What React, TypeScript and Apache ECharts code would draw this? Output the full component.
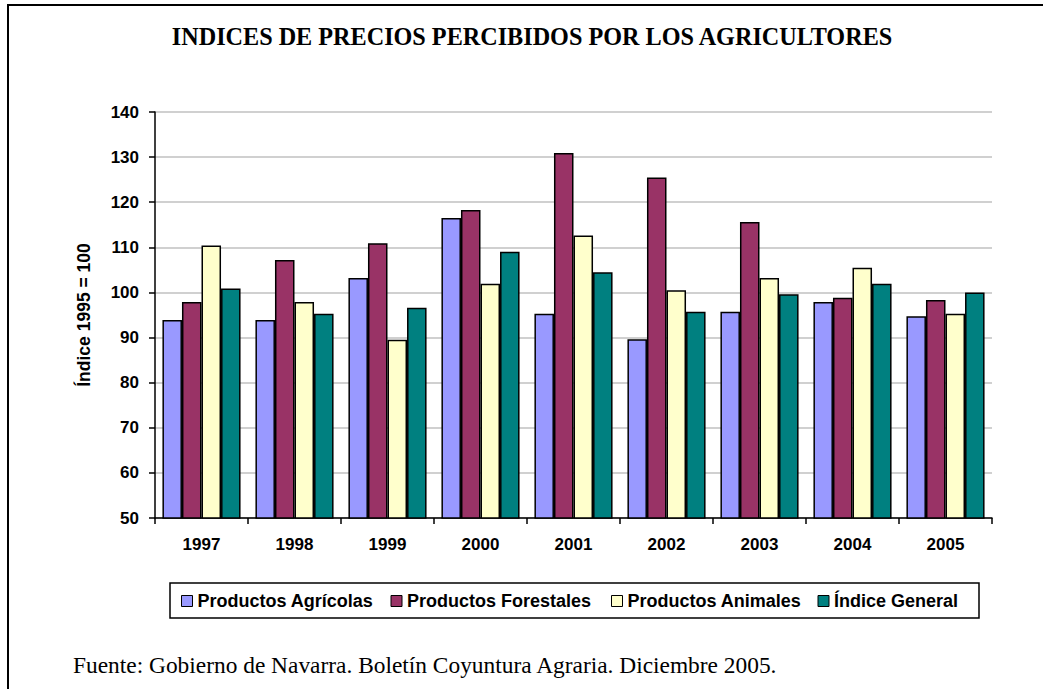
import React, { useEffect, useRef } from "react";
import * as echarts from "echarts";

const years = ["1997", "1998", "1999", "2000", "2001", "2002", "2003", "2004", "2005"];
const agricolas = [93.9, 93.9, 103.2, 116.5, 95.3, 89.6, 95.7, 97.9, 94.7];
const forestales = [97.9, 107.2, 110.9, 118.3, 130.9, 125.5, 115.6, 98.8, 98.3];
const animales = [110.4, 97.9, 89.5, 101.9, 112.6, 100.5, 103.2, 105.5, 95.3];
const general = [100.9, 95.3, 96.6, 109.0, 104.5, 95.7, 99.6, 101.9, 100.0];

const seriesNames = ["Productos Agrícolas", "Productos Forestales", "Productos Animales", "Índice General"];
const seriesColors = ["#9999FF", "#993366", "#FFFFCC", "#008080"];
const legendTextWidths = [183, 194, 180, 131];

const titleText = "INDICES DE PRECIOS PERCIBIDOS POR LOS AGRICULTORES";
const yAxisName = "Índice 1995 = 100";
const footerText = "Fuente: Gobierno de Navarra. Boletín Coyuntura Agraria. Diciembre 2005.";

const SANS = "'Liberation Sans', Arial, sans-serif";
const SERIF = "'Liberation Serif', 'Times New Roman', serif";

export default function App() {
  const ref = useRef<HTMLDivElement>(null);

  useEffect(() => {
    if (!ref.current) return;
    const chart = echarts.init(ref.current, undefined, { renderer: "svg" });
    const dataSets = [agricolas, forestales, animales, general];

    chart.setOption({
      animation: false,
      backgroundColor: "#ffffff",
      grid: { left: 155, right: 51, top: 112, bottom: 171, containLabel: false },
      xAxis: {
        type: "category",
        data: years,
        axisLine: { show: true, lineStyle: { color: "#000", width: 1.5 } },
        axisTick: { show: true, alignWithLabel: false, length: 6, lineStyle: { color: "#000", width: 1.5 } },
        axisLabel: { color: "#000", fontFamily: SANS, fontWeight: "bold", fontSize: 17, margin: 18 },
      },
      yAxis: {
        type: "value",
        min: 50,
        max: 140,
        interval: 10,
        name: yAxisName,
        nameLocation: "middle",
        nameGap: 62,
        nameRotate: 90,
        nameTextStyle: { color: "#000", fontFamily: SANS, fontWeight: "bold", fontSize: 17.5 },
        axisLine: { show: true, lineStyle: { color: "#000", width: 1.5 } },
        axisTick: { show: true, length: 6, lineStyle: { color: "#000", width: 1.5 } },
        axisLabel: { color: "#000", fontFamily: SANS, fontWeight: "bold", fontSize: 17, margin: 16 },
        splitLine: { show: true, lineStyle: { color: "#c0c0c0", width: 1.5 } },
      },
      legend: {
        left: 170,
        top: 583,
        orient: "horizontal",
        padding: [9, 14, 8, 11],
        itemGap: 10,
        itemWidth: 11,
        itemHeight: 11,
        icon: "rect",
        selectedMode: false,
        borderColor: "#000",
        borderWidth: 1.5,
        itemStyle: { borderColor: "#000", borderWidth: 1 },
        textStyle: { color: "#000", fontFamily: SANS, fontWeight: "bold", fontSize: 18, lineHeight: 18 },
        data: seriesNames.map((n, i) => ({ name: n, textStyle: { width: legendTextWidths[i] } })),
      },
      series: seriesNames.map((n, i) => ({
        name: n,
        type: "bar",
        data: dataSets[i],
        barGap: "0%",
        barCategoryGap: "16%",
        itemStyle: { color: seriesColors[i], borderColor: "#000", borderWidth: 1.5 },
      })),
      graphic: [
        {
          type: "rect",
          silent: true,
          shape: { x: 8, y: 5, width: 1100, height: 800 },
          style: { fill: "none", stroke: "#000", lineWidth: 2 },
        },
        {
          type: "text",
          x: 532,
          y: 36,
          style: {
            text: titleText,
            fill: "#000",
            font: `bold 24.2px ${SERIF}`,
            textAlign: "center",
            textVerticalAlign: "middle",
          },
        },
        {
          type: "text",
          x: 73,
          y: 665,
          style: {
            text: footerText,
            fill: "#000",
            font: `23.4px ${SERIF}`,
            textAlign: "left",
            textVerticalAlign: "middle",
          },
        },
      ],
    });

    return () => chart.dispose();
  }, []);

  return (
    <div
      ref={ref}
      style={{ position: "absolute", left: 0, top: 0, width: 1043, height: 689, background: "#fff" }}
    />
  );
}
